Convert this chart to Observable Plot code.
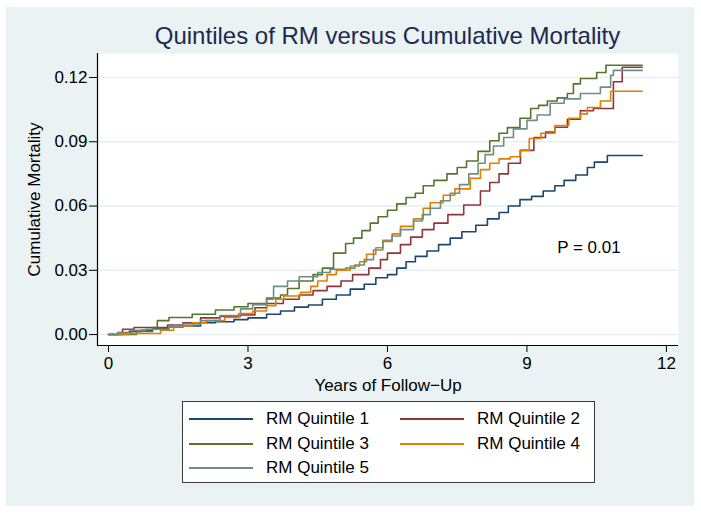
<!DOCTYPE html>
<html>
<head>
<meta charset="utf-8">
<script src="https://cdn.jsdelivr.net/npm/d3@7"></script>
<script src="https://cdn.jsdelivr.net/npm/@observablehq/plot@0.6"></script>
<style>
  html, body { margin: 0; padding: 0; background: #ffffff; }
  #wrap { position: relative; width: 701px; height: 513px; background: #ffffff; font-family: "Liberation Sans", Arial, sans-serif; overflow: hidden; }
  #panel { position: absolute; left: 6px; top: 7px; width: 688px; height: 499px; background: #eaf2f3; }
  #title { position: absolute; left: 0; top: 24px; width: 775px; text-align: center; font-size: 24px; line-height: 24px; color: #1c2a4e; white-space: nowrap; }
  #chart { position: absolute; left: 0; top: 0; }
  #legend { position: absolute; left: 182px; top: 401px; width: 413px; height: 82px; box-sizing: border-box; border: 1.5px solid #3a3a3a; background: #ffffff; }
  .item { position: absolute; height: 20px; }
  .swatch { position: absolute; left: 0; top: 9px; width: 64px; height: 2px; }
  .lab { position: absolute; left: 77px; top: 0; font-size: 17px; line-height: 20px; color: #000; white-space: nowrap; }
</style>
</head>
<body>
<div id="wrap">
  <div id="panel"></div>
  <div id="chart"></div>
  <div id="title"></div>
  <div id="legend"></div>
</div>
<script>
// ---- data ----
const seriesNames = ["RM Quintile 1", "RM Quintile 2", "RM Quintile 3", "RM Quintile 4", "RM Quintile 5"];
const seriesColors = ["#1a476f", "#90353b", "#55752f", "#e37e00", "#6e8e84"];

const q1Years = [0, 0.2, 0.45, 0.7, 0.95, 1.3, 1.6, 1.98, 2.3, 2.7, 3.0, 3.4, 3.7, 4.0, 4.3, 4.6, 4.9, 5.2, 5.5, 5.75, 6.0, 6.2, 6.4, 6.6, 6.85, 7.1, 7.35, 7.6, 7.9, 8.15, 8.4, 8.6, 8.85, 9.1, 9.35, 9.6, 9.8, 10.05, 10.3, 10.45, 10.73, 11.48];
const q1Mort  = [0, 0.001, 0.0015, 0.002, 0.003, 0.0035, 0.004, 0.0055, 0.006, 0.007, 0.0078, 0.0095, 0.011, 0.0128, 0.0138, 0.0165, 0.0185, 0.0212, 0.0235, 0.0265, 0.028, 0.031, 0.034, 0.0365, 0.039, 0.042, 0.045, 0.048, 0.051, 0.054, 0.057, 0.060, 0.063, 0.0645, 0.067, 0.0695, 0.072, 0.0745, 0.078, 0.0805, 0.0836, 0.0836];

const q2Years = [0, 0.3, 0.55, 1.27, 1.6, 1.98, 2.4, 2.84, 3.15, 3.4, 3.76, 4.1, 4.4, 4.7, 5.0, 5.25, 5.6, 5.85, 6.0, 6.28, 6.5, 6.75, 7.0, 7.3, 7.64, 8.0, 8.2, 8.4, 8.6, 8.86, 9.15, 9.4, 9.6, 9.87, 10.15, 10.43, 10.86, 11.05, 11.48];
const q2Mort  = [0, 0.0025, 0.0033, 0.0045, 0.0055, 0.0078, 0.0085, 0.0092, 0.0125, 0.0145, 0.0165, 0.0185, 0.0205, 0.0225, 0.025, 0.028, 0.031, 0.035, 0.038, 0.042, 0.0455, 0.049, 0.052, 0.056, 0.0605, 0.067, 0.071, 0.075, 0.080, 0.086, 0.092, 0.0945, 0.0968, 0.1005, 0.1045, 0.1055, 0.118, 0.1248, 0.1248];

const q3Years = [0, 0.6, 0.95, 1.05, 1.3, 1.8, 2.3, 2.7, 3.0, 3.4, 3.7, 3.85, 4.1, 4.4, 4.6, 4.84, 5.1, 5.27, 5.45, 5.63, 5.8, 6.0, 6.2, 6.4, 6.6, 6.77, 7.0, 7.28, 7.5, 7.7, 7.95, 8.2, 8.4, 8.58, 8.85, 9.08, 9.25, 9.44, 9.65, 9.87, 10.0, 10.15, 10.5, 10.7, 11.48];
const q3Mort  = [0, 0.0015, 0.0033, 0.0065, 0.008, 0.0095, 0.0115, 0.013, 0.0145, 0.017, 0.0185, 0.0215, 0.025, 0.028, 0.031, 0.038, 0.0425, 0.045, 0.0485, 0.052, 0.055, 0.058, 0.061, 0.064, 0.066, 0.0695, 0.072, 0.075, 0.078, 0.081, 0.0855, 0.0905, 0.094, 0.0966, 0.101, 0.1055, 0.107, 0.109, 0.1105, 0.1125, 0.117, 0.1195, 0.1223, 0.1257, 0.1257];

const q4Years = [0, 0.45, 1.12, 1.4, 1.8, 2.1, 2.5, 2.8, 3.1, 3.4, 3.6, 3.77, 4.13, 4.35, 4.5, 4.7, 4.9, 5.2, 5.4, 5.55, 5.75, 5.9, 6.1, 6.28, 6.56, 6.77, 6.92, 7.2, 7.45, 7.78, 8.0, 8.2, 8.4, 8.64, 8.85, 9.05, 9.3, 9.6, 9.9, 10.15, 10.3, 10.58, 10.8, 11.48];
const q4Mort  = [0, 0.0005, 0.002, 0.004, 0.0055, 0.0065, 0.008, 0.0098, 0.011, 0.0135, 0.0165, 0.018, 0.0197, 0.0225, 0.025, 0.028, 0.030, 0.032, 0.034, 0.0375, 0.0405, 0.044, 0.047, 0.0505, 0.054, 0.059, 0.0615, 0.065, 0.068, 0.073, 0.077, 0.080, 0.082, 0.083, 0.086, 0.0915, 0.094, 0.0976, 0.101, 0.103, 0.106, 0.109, 0.1136, 0.1136];

const q5Years = [0, 0.2, 0.5, 0.8, 1.3, 1.6, 1.98, 2.4, 2.84, 3.1, 3.4, 3.55, 3.85, 4.1, 4.5, 4.77, 5.1, 5.3, 5.5, 5.7, 5.9, 6.1, 6.28, 6.56, 6.75, 6.92, 7.14, 7.35, 7.55, 7.75, 7.95, 8.1, 8.28, 8.5, 8.71, 9.0, 9.22, 9.5, 9.8, 10.15, 10.58, 10.8, 10.86, 11.48];
const q5Mort  = [0, 0.0008, 0.002, 0.0025, 0.0035, 0.005, 0.0065, 0.0089, 0.012, 0.014, 0.0165, 0.0225, 0.025, 0.027, 0.029, 0.0305, 0.031, 0.0325, 0.035, 0.0395, 0.0435, 0.046, 0.049, 0.053, 0.056, 0.059, 0.0625, 0.066, 0.070, 0.075, 0.080, 0.084, 0.088, 0.092, 0.096, 0.100, 0.1025, 0.108, 0.110, 0.1125, 0.1155, 0.121, 0.1233, 0.1233];

const xTicks = [0, 3, 6, 9, 12];
const yTicks = [0, 0.03, 0.06, 0.09, 0.12];
const xDomain = [-0.237, 12.26];
const yDomain = [-0.0051, 0.1312];

const pNote = [{x: 9.65, y: 0.0408, text: "P = 0.01"}];
const titleText = "Quintiles of RM versus Cumulative Mortality";
const xLabel = "Years of Follow\u2212Up";
const yLabel = "Cumulative Mortality";

// ---- build table ----
const yearsList = [q1Years, q2Years, q3Years, q4Years, q5Years];
const mortList = [q1Mort, q2Mort, q3Mort, q4Mort, q5Mort];
const rows = [];
seriesNames.forEach((name, i) => {
  yearsList[i].forEach((t, j) => rows.push({series: name, t, y: mortList[i][j]}));
});

const chart = Plot.plot({
  width: 701,
  height: 513,
  marginLeft: 97,
  marginRight: 23,
  marginTop: 53,
  marginBottom: 168,
  style: {background: "transparent", fontFamily: "'Liberation Sans', Arial, sans-serif", fontSize: "17px", color: "#000", overflow: "visible"},
  x: {domain: xDomain},
  y: {domain: yDomain},
  color: {domain: seriesNames, range: seriesColors},
  marks: [
    Plot.frame({fill: "#ffffff", stroke: null}),
    Plot.gridY(yTicks, {stroke: "#e6eff1", strokeOpacity: 1, strokeWidth: 1.5}),
    Plot.line(rows, {x: "t", y: "y", z: "series", stroke: "series", curve: "step-after", strokeWidth: 1.6}),
    Plot.text(pNote, {x: "x", y: "y", text: "text", textAnchor: "start", fontSize: 17, fill: "#000"}),
    Plot.ruleY([yDomain[0]], {stroke: "#000", strokeWidth: 1.2}),
    Plot.ruleX([xDomain[0]], {stroke: "#000", strokeWidth: 1.2}),
    Plot.axisX(xTicks, {tickSize: 7, tickPadding: 4, fontSize: 17, stroke: "#000", label: xLabel, labelAnchor: "center", labelArrow: "none", labelOffset: 45}),
    Plot.axisY(yTicks, {tickSize: 8, tickPadding: 2, fontSize: 17, stroke: "#000", tickFormat: d3.format(".2f"), label: yLabel, labelAnchor: "center", labelArrow: "none", labelOffset: 70})
  ]
});
document.getElementById("chart").appendChild(chart);
document.getElementById("title").textContent = titleText;

// ---- legend ----
const legend = document.getElementById("legend");
const itemPos = [[6, 7], [217, 7], [6, 32], [217, 32], [6, 56]];
seriesNames.forEach((name, i) => {
  const it = document.createElement("div");
  it.className = "item";
  it.style.left = itemPos[i][0] + "px";
  it.style.top = itemPos[i][1] + "px";
  const sw = document.createElement("div");
  sw.className = "swatch";
  sw.style.background = seriesColors[i];
  const lb = document.createElement("div");
  lb.className = "lab";
  lb.textContent = name;
  it.appendChild(sw);
  it.appendChild(lb);
  legend.appendChild(it);
});
</script>
</body>
</html>
